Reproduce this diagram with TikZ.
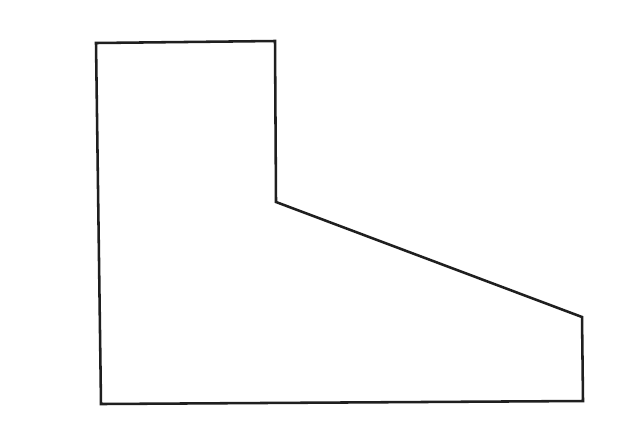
\documentclass[tikz,border=0pt]{standalone}
\begin{document}
\begin{tikzpicture}[x=0.02cm,y=-0.02cm,
  outline/.style={draw=black!88,line width=1.45pt,line join=miter}]
\useasboundingbox (0,0) rectangle (617,430);
\fill[white] (0,0) rectangle (617,430);
\draw[outline] (96,43) -- (275,41) -- (276,202) -- (582,317) -- (583,401) -- (101,404) -- cycle;
\end{tikzpicture}
\end{document}
